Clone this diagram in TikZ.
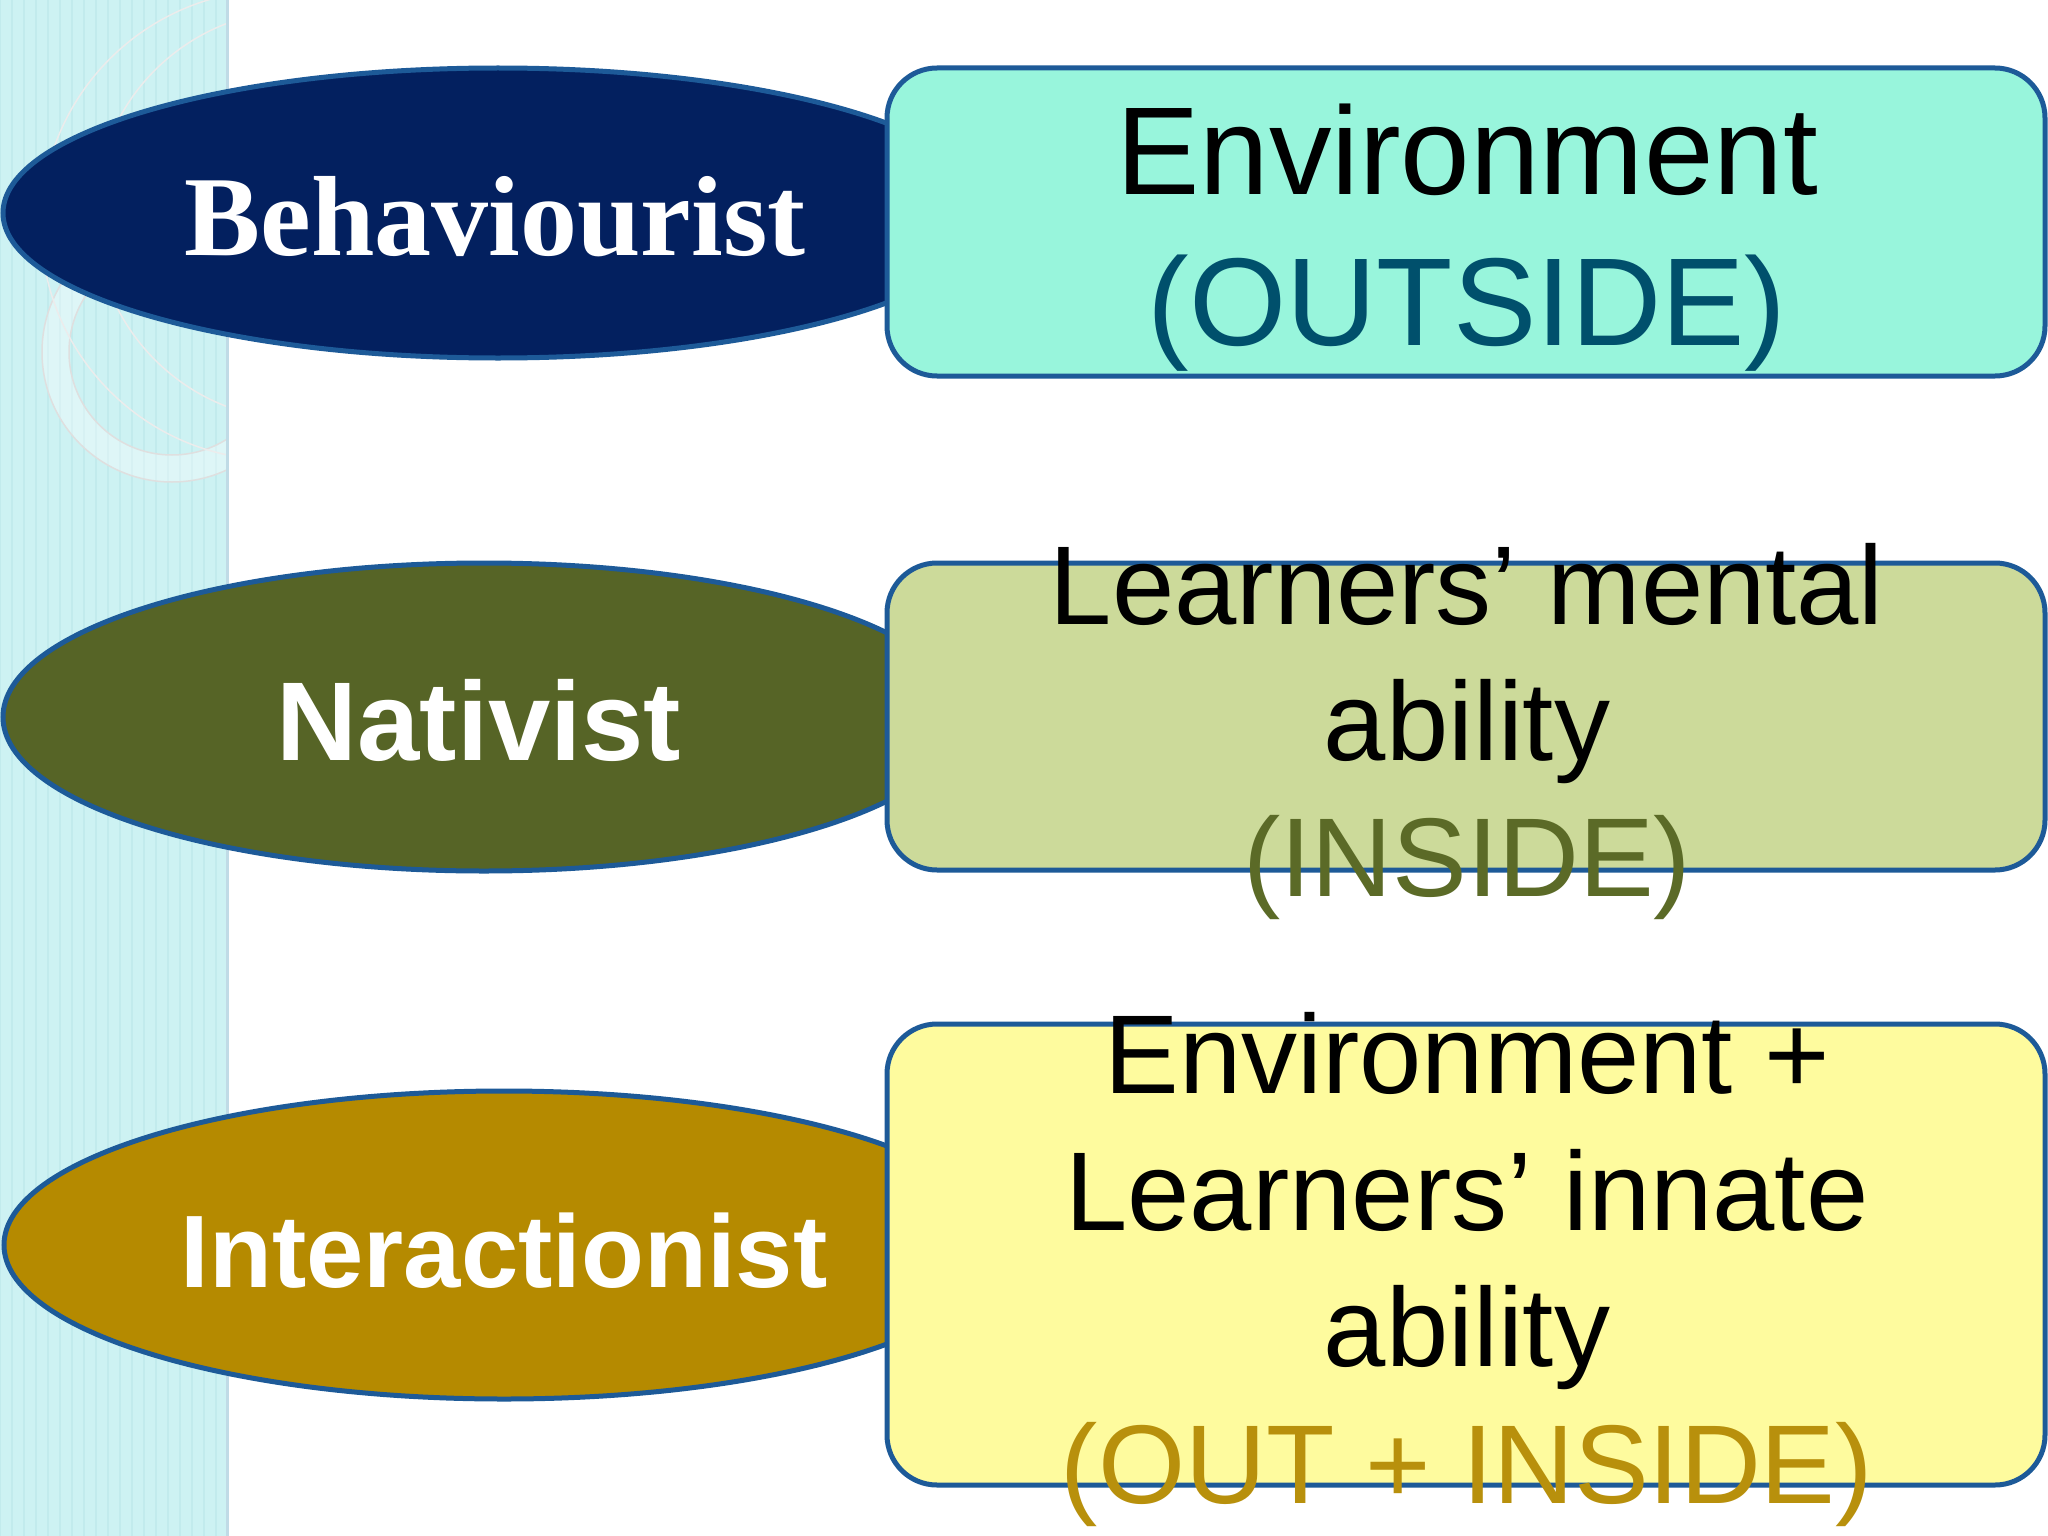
\documentclass[tikz,border=0pt]{standalone}
\usepackage{fontspec}
\setmainfont{Liberation Serif}
\setsansfont{Liberation Sans}
\usetikzlibrary{shapes.geometric}
\definecolor{strip}{HTML}{CDF2F3}
\definecolor{gridc}{HTML}{C2EBED}
\definecolor{edge}{HTML}{1D5A98}
\definecolor{navy}{HTML}{03205F}
\definecolor{olive}{HTML}{566426}
\definecolor{gold}{HTML}{B58A00}
\definecolor{aqua}{HTML}{98F5DC}
\definecolor{sage}{HTML}{CCDA9A}
\definecolor{lemon}{HTML}{FEFB9E}
\definecolor{tealtxt}{HTML}{00506C}
\definecolor{olivetxt}{HTML}{5B6A27}
\definecolor{goldtxt}{HTML}{B8900C}
\begin{document}
\begin{tikzpicture}[x=1pt,y=-1pt,
  oval/.style={ellipse, draw=edge, line width=5pt, inner sep=0pt},
  card/.style={rectangle, rounded corners=50pt, draw=edge, line width=5pt, inner sep=0pt, minimum width=1158pt},
  ovaltext/.style={anchor=base, text=white, inner sep=0pt},
  cardtext/.style={anchor=base, inner sep=0pt}]
\useasboundingbox (0,0) rectangle (2048,1536);
\fill[white] (0,0) rectangle (2048,1536);
% left decorative strip
\fill[strip] (0,0) rectangle (227,1536);
\draw[gridc, line width=1.5pt, step=12] (0,0) grid (227,1536);
\begin{scope}
  \clip (0,0) rectangle (227,1536);
  \fill[white, opacity=0.35, even odd rule] (172,352) circle (130) (172,352) circle (103);
  \draw[white!75!gray, line width=1.5pt] (172,352) circle (130) (172,352) circle (103);
  \draw[white!85!gray, line width=1.5pt] (276,225) circle (235);
  \draw[white!85!gray, line width=1.5pt] (300,215) circle (205);
\end{scope}
\draw[white!78!cyan!80!gray, line width=3pt] (227,0) -- (227,1536);
% ovals
\node[oval, fill=navy, minimum width=990pt, minimum height=290pt] (e1) at (498,213) {};
\node[oval, fill=olive, minimum width=962pt, minimum height=308pt] (e2) at (484,717) {};
\node[oval, fill=gold, minimum width=1000pt, minimum height=308pt] (e3) at (504,1245) {};
% cards
\node[card, fill=aqua, minimum height=308pt] (c1) at (1466,222) {};
\node[card, fill=sage, minimum height=307pt] (c2) at (1466,716.5) {};
\node[card, fill=lemon, minimum height=461pt] (c3) at (1466,1254.5) {};
% oval labels
\node[ovaltext, font=\fontsize{114}{130}\selectfont\rmfamily\bfseries] (t1) at (495,255) {Behaviourist};
\node[ovaltext, font=\fontsize{112}{130}\selectfont\sffamily\bfseries] (t2) at (479,760) {Nativist};
\node[ovaltext, font=\fontsize{103}{130}\selectfont\sffamily\bfseries] (t3) at (504,1287) {Interactionist};
% card texts
\begin{scope}[every node/.style={cardtext, font=\fontsize{125}{150}\selectfont\sffamily}]
\node (c1a) at (1467,194) {Environment};
\node[text=tealtxt] (c1b) at (1467,345) {(OUTSIDE)};
\end{scope}
\begin{scope}[every node/.style={cardtext, font=\fontsize{112}{136}\selectfont\sffamily}]
\node (c2a) at (1467,624) {Learners’ mental};
\node (c2b) at (1467,760) {ability};
\node[text=olivetxt] (c2c) at (1467,896) {(INSIDE)};
\node (c3a) at (1467,1093) {Environment +};
\node (c3b) at (1467,1230) {Learners’ innate};
\node (c3c) at (1467,1366) {ability};
\node[text=goldtxt] (c3d) at (1467,1503) {(OUT + INSIDE)};
\end{scope}
\end{tikzpicture}
\end{document}
